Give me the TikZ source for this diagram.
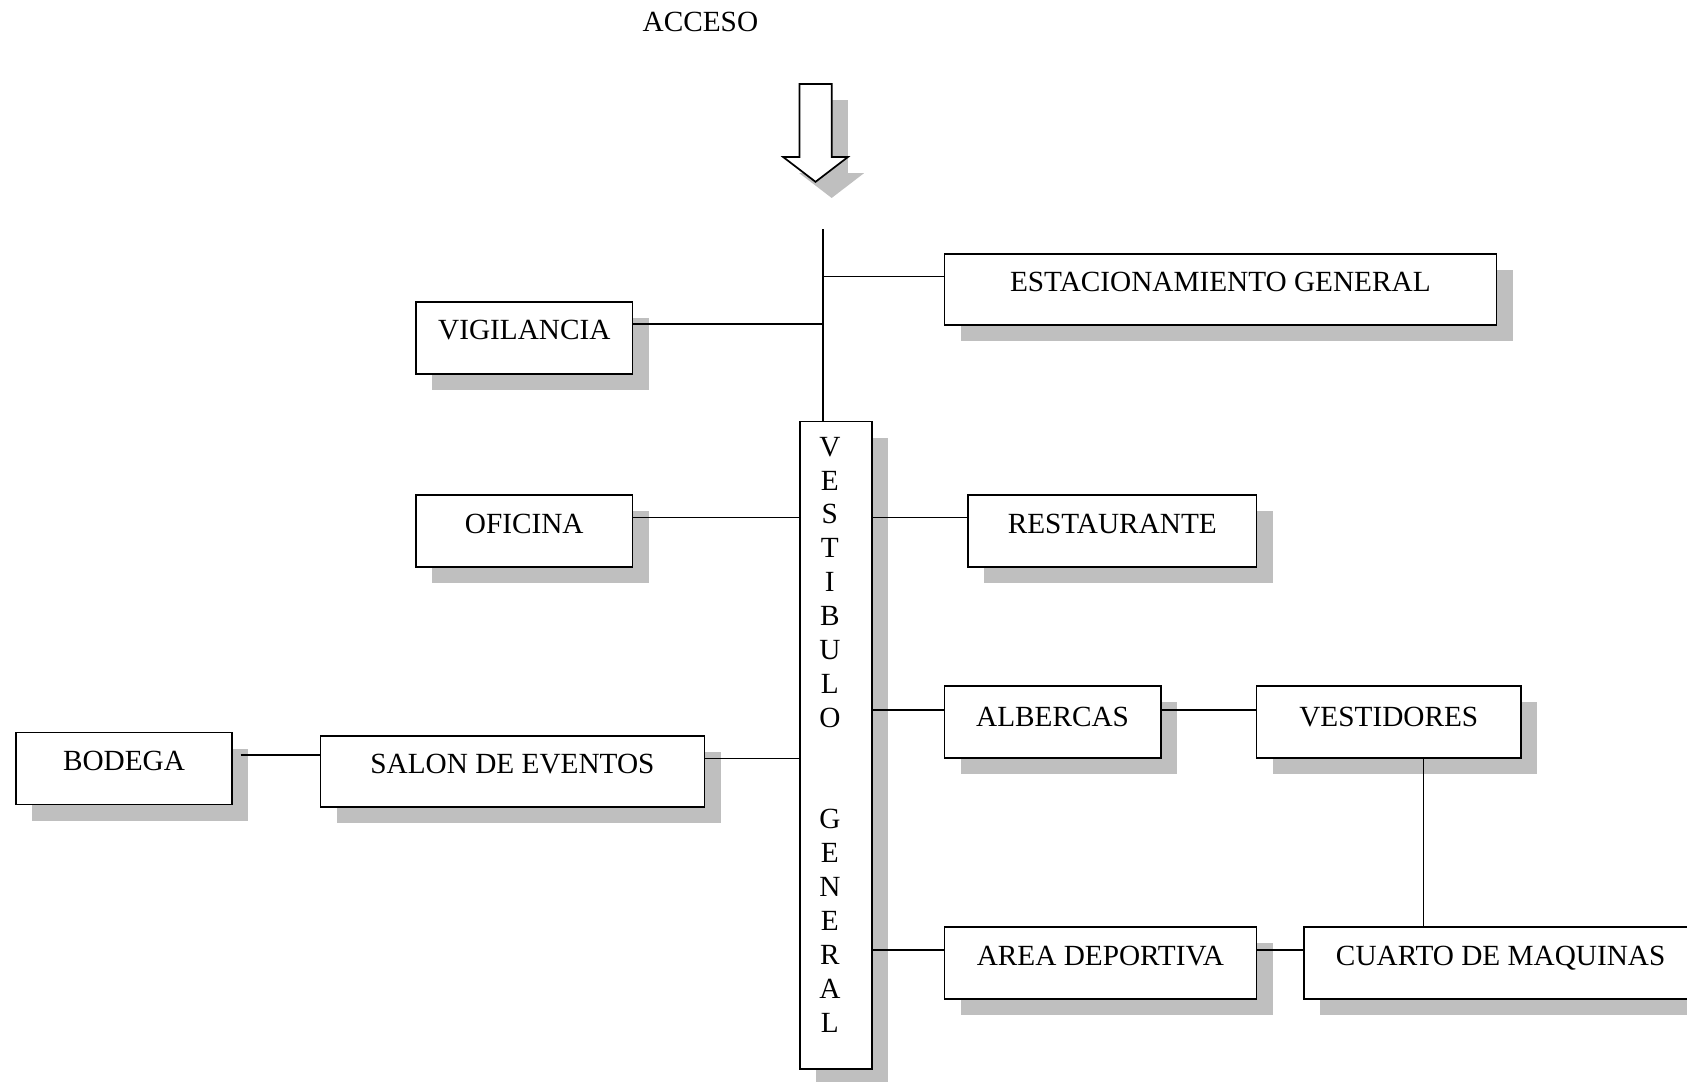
\documentclass[tikz,border=0pt]{standalone}
\usepackage{fontspec}
\setmainfont{Liberation Serif}
\usetikzlibrary{calc,shadows}
\definecolor{shadowgray}{RGB}{191,191,191}
\begin{document}
\begin{tikzpicture}[x=1pt,y=-1pt,
  box/.style={draw, line width=1.6pt, fill=white, inner sep=0pt, anchor=north west,
    general shadow={fill=shadowgray, shadow xshift=15pt, shadow yshift=-15pt}},
  lbl/.style={anchor=base, inner sep=0pt, font=\fontsize{27.2}{32}\selectfont},
  link/.style={line width=1.6pt}]
\useasboundingbox (0,0) rectangle (1568,1005);

% entrance arrow with its shadow
\fill[shadowgray, shift={(15,15)}] (743,78) -- (773,78) -- (773,146) -- (788,146)
  -- (758,169) -- (728,146) -- (743,146) -- cycle;
\draw[line width=1.6pt, fill=white, line join=miter] (743,78) -- (773,78) -- (773,146) -- (788,146)
  -- (758,169) -- (728,146) -- (743,146) -- cycle;
\node[lbl] (acceso) at (651,29) {ACCESO};

% boxes
\node[box, minimum width=513pt, minimum height=66pt] (estac)  at (877,235) {};
\node[box, minimum width=201pt, minimum height=67pt] (vigil)  at (386,280) {};
\node[box, minimum width=67pt,  minimum height=602pt] (vest)  at (743,391) {};
\node[box, minimum width=201pt, minimum height=67pt] (ofic)   at (386,459) {};
\node[box, minimum width=268pt, minimum height=67pt] (resta)  at (899,459) {};
\node[box, minimum width=201pt, minimum height=67pt] (alber)  at (877,637) {};
\node[box, minimum width=246pt, minimum height=67pt] (vestid) at (1167,637) {};
\node[box, minimum width=357pt, minimum height=66pt] (salon)  at (297,683) {};
\node[box, minimum width=201pt, minimum height=67pt] (bodega) at (14,680) {};
\node[box, minimum width=290pt, minimum height=67pt] (area)   at (877,861) {};
\node[box, minimum width=366pt, minimum height=67pt] (cuarto) at (1211,861) {};

% labels
\node[lbl] (estac-t)  at ($(estac.north)+(0,36)$)  {ESTACIONAMIENTO GENERAL};
\node[lbl] (vigil-t)  at ($(vigil.north)+(0,36)$)  {VIGILANCIA};
\node[lbl] (ofic-t)   at ($(ofic.north)+(0,37)$)   {OFICINA};
\node[lbl] (resta-t)  at ($(resta.north)+(0,37)$)  {RESTAURANTE};
\node[lbl] (alber-t)  at ($(alber.north)+(0,38)$)  {ALBERCAS};
\node[lbl] (vestid-t) at ($(vestid.north)+(0,38)$) {VESTIDORES};
\node[lbl] (salon-t)  at ($(salon.north)+(0,36)$)  {SALON DE EVENTOS};
\node[lbl] (bodega-t) at ($(bodega.north)+(0,36)$) {BODEGA};
\node[lbl] (area-t)   at ($(area.north)+(0,36)$)   {AREA DEPORTIVA};
\node[lbl] (cuarto-t) at ($(cuarto.north)+(0,36)$) {CUARTO DE MAQUINAS};
\foreach \ch/\k in {V/0,E/1,S/2,T/3,I/4,B/5,U/6,L/7,O/8,G/11,E/12,N/13,E/14,R/15,A/16,L/17}
  \node[lbl] (vest-\k) at ($(vest.north)+(-6,33+31.5*\k)$) {\ch};

% trunk from the entrance
\coordinate (acc) at (765,213);
\draw[link] (acc) -- (acc |- vest.north);
\path ($(estac.north west)+(0,22)$) coordinate (estac-c);
\draw[link] (estac-c) -- (estac-c -| acc);
\path ($(vigil.north east)+(0,21)$) coordinate (vigil-c);
\draw[link] (vigil-c) -- (vigil-c -| acc);

% links around the lobby
\path ($(ofic.north east)+(0,22)$) coordinate (ofic-c);
\draw[link] (ofic-c) -- (ofic-c -| vest.west);
\path ($(resta.north west)+(0,22)$) coordinate (resta-c);
\draw[link] (resta-c) -- (resta-c -| vest.east);
\path ($(alber.north west)+(0,23)$) coordinate (alber-c);
\draw[link] (alber-c) -- (alber-c -| vest.east);
\path ($(alber.north east)+(0,23)$) coordinate (alber-d);
\draw[link] (alber-d) -- (alber-d -| vestid.west);
\path ($(salon.north east)+(0,22)$) coordinate (salon-c);
\draw[link] (salon-c) -- (salon-c -| vest.west);
\path ($(bodega.north east)+(7,22)$) coordinate (bodega-c);
\draw[link] (bodega-c) -- (bodega-c -| salon.west);
\path ($(area.north west)+(0,22)$) coordinate (area-c);
\draw[link] (area-c) -- (area-c -| vest.east);
\path ($(area.north east)+(0,22)$) coordinate (area-d);
\draw[link] (area-d) -- (area-d -| cuarto.west);
\path ($(vestid.south west)+(156,0)$) coordinate (vestid-c);
\draw[link] (vestid-c) -- (vestid-c |- cuarto.north);
\end{tikzpicture}
\end{document}
